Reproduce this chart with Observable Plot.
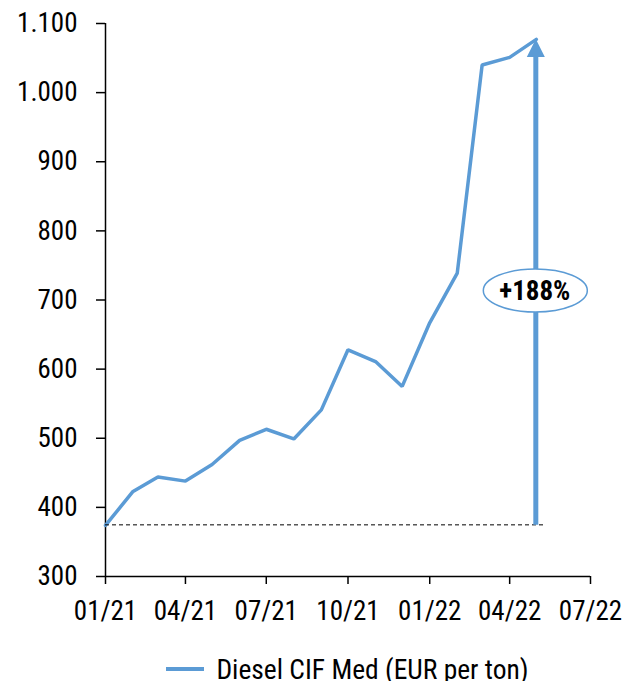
<!DOCTYPE html>
<html>
<head>
<meta charset="utf-8">
<script src="https://cdn.jsdelivr.net/npm/d3@7"></script>
<script src="https://cdn.jsdelivr.net/npm/@observablehq/plot@0.6"></script>
<style>
  body { margin: 0; background: #fff; }
  #chart { width: 626px; }
  .legend { display: flex; justify-content: center; align-items: center; padding-left: 69px; margin-top: 27px;
    font-family: "Roboto Condensed", "Liberation Sans Narrow", "DejaVu Sans Condensed", Roboto, sans-serif; font-size: 27.5px; color: #000; height: 24px; }
  .legend .sw { width: 38px; height: 4px; background: #5B9BD5; margin-right: 12px; }
</style>
</head>
<body>
<div id="chart"></div>
<script>
const FONT = '"Roboto Condensed", "Liberation Sans Narrow", "DejaVu Sans Condensed", Roboto, sans-serif';
const months = ["2021-01","2021-02","2021-03","2021-04","2021-05","2021-06","2021-07","2021-08","2021-09",
  "2021-10","2021-11","2021-12","2022-01","2022-02","2022-03","2022-04","2022-05"];
const diesel = [374, 423, 444, 438, 462, 497, 513, 499, 541, 628, 611, 575, 667, 739, 1040, 1051, 1077];
const xTicks = ["2021-01","2021-04","2021-07","2021-10","2022-01","2022-04","2022-07"];
const yTicks = [300, 400, 500, 600, 700, 800, 900, 1000, 1100];
const seriesName = "Diesel CIF Med (EUR per ton)";
const changeLabel = "+188%";
const COLOR = "#5B9BD5";

const parse = d3.utcParse("%Y-%m");
const data = months.map((m, i) => ({date: parse(m), value: diesel[i]}));
const fmt = d3.formatLocale({decimal: ",", thousands: ".", grouping: [3], currency: ["", "€"]}).format(",");

const plot = Plot.plot({
  width: 626,
  height: 630,
  marginLeft: 105,
  marginRight: 36,
  marginTop: 23,
  marginBottom: 54,
  style: {fontFamily: FONT, fontSize: "27px", color: "#000", background: "#fff"},
  x: {type: "utc", domain: [parse(xTicks[0]), parse(xTicks[xTicks.length - 1])]},
  y: {domain: [300, 1100]},
  marks: [
    Plot.axisX({ticks: xTicks.map(parse), tickFormat: d3.utcFormat("%m/%y"), tickSize: 8, tickPadding: 16, label: null, strokeWidth: 1.5}),
    Plot.axisY({ticks: yTicks, tickFormat: fmt, tickSize: 9, tickPadding: 19, label: null, strokeWidth: 1.5}),
    Plot.ruleX([parse(xTicks[0])], {stroke: "#000", strokeWidth: 1.5}),
    Plot.ruleY([300], {stroke: "#000", strokeWidth: 1.5}),
    Plot.line(data, {x: "date", y: "value", stroke: COLOR, strokeWidth: 3.5, strokeLinejoin: "miter"})
  ]
});
document.getElementById("chart").appendChild(plot);

// annotation (positions from the plot's own scales)
const xs = plot.scale("x"), ys = plot.scale("y");
const first = data[0], last = data[data.length - 1];
const x0 = xs.apply(first.date), xl = xs.apply(last.date);
const yb = ys.apply(first.value), yt = ys.apply(last.value);
const g = d3.select(plot).append("g");
g.append("line").attr("x1", x0).attr("x2", xl + 10).attr("y1", yb).attr("y2", yb)
  .attr("stroke", "#000").attr("stroke-width", 1).attr("stroke-dasharray", "4,3");
g.append("line").attr("x1", xl).attr("x2", xl).attr("y1", yb).attr("y2", yt + 14)
  .attr("stroke", COLOR).attr("stroke-width", 5);
g.append("path").attr("d", `M${xl},${yt} L${xl - 9},${yt + 18} L${xl + 9},${yt + 18} Z`).attr("fill", COLOR);
const ym = ys.apply(713);
g.append("ellipse").attr("cx", xl - 0.5).attr("cy", ym).attr("rx", 52).attr("ry", 21.5)
  .attr("fill", "#fff").attr("stroke", COLOR).attr("stroke-width", 1.5);
g.append("text").attr("x", xl - 1).attr("y", ym).attr("dy", "0.35em").attr("text-anchor", "middle")
  .attr("font-weight", "bold").attr("font-size", 27).attr("font-family", FONT).text(changeLabel);

const leg = document.createElement("div");
leg.className = "legend";
leg.innerHTML = `<span class="sw"></span><span></span>`;
leg.lastChild.textContent = seriesName;
document.getElementById("chart").appendChild(leg);
</script>
</body>
</html>
